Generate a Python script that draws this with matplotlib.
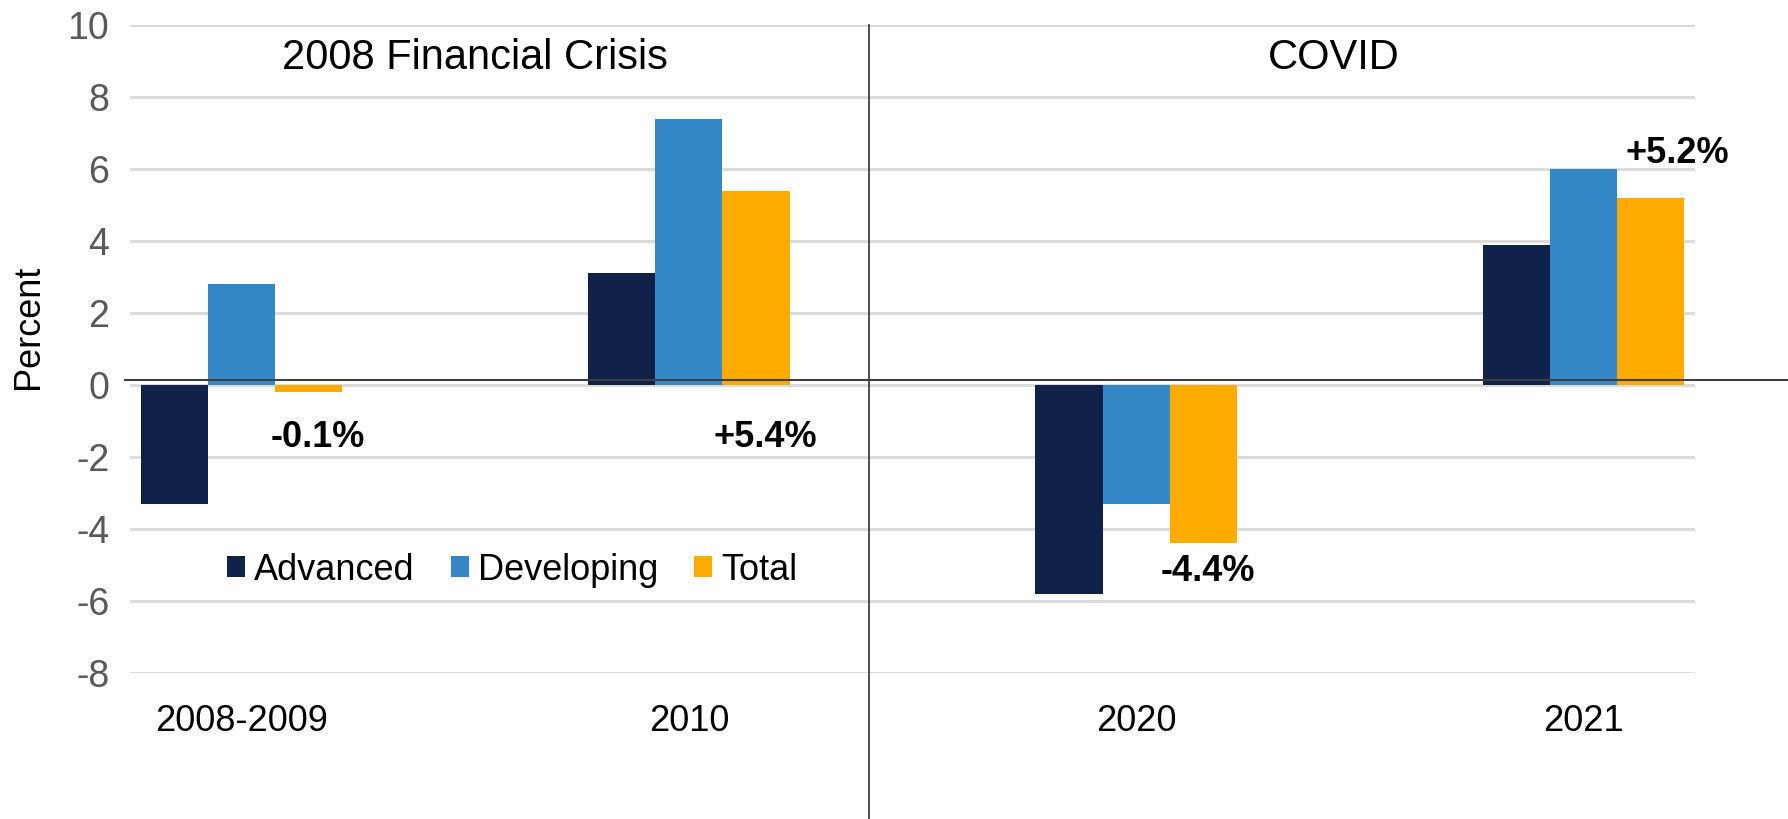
import matplotlib.pyplot as plt
import matplotlib.transforms as mtransforms
from matplotlib.lines import Line2D
import numpy as np

plt.rcParams['font.family'] = ['Liberation Sans', 'DejaVu Sans']

# data
categories = ['2008-2009', '2010', '2020', '2021']
advanced = [-3.3, 3.1, -5.8, 3.9]
developing = [2.8, 7.4, -3.3, 6.0]
total = [-0.2, 5.4, -4.4, 5.2]
total_labels = ['-0.1%', '+5.4%', '-4.4%', '+5.2%']
series_names = ['Advanced', 'Developing', 'Total']
section_titles = ['2008 Financial Crisis', 'COVID']
yticks = [-8, -6, -4, -2, 0, 2, 4, 6, 8, 10]

colors = ['#10224A', '#3588C8', '#FFAB00']

W, H = 1788, 819
fig = plt.figure(figsize=(W / 100, H / 100), dpi=100)
ax = fig.add_axes([130 / W, 1 - 673 / H, (1695 - 130) / W, (673 - 25) / H])

x = np.arange(len(categories))
bw = 0.15
for i, (vals, name) in enumerate(zip([advanced, developing, total], series_names)):
    ax.bar(x + (i - 1) * bw, vals, bw, color=colors[i], label=name, zorder=3)

ax.set_xlim(-0.25, 3.25)
ax.set_ylim(-8, 10)
ax.set_yticks(yticks)
ax.set_yticklabels([str(t) for t in yticks])
ax.set_xticks(x)
ax.set_xticklabels(categories)
ax.tick_params(axis='y', length=0, pad=15, labelsize=27, labelcolor='#595959')
ax.tick_params(axis='x', length=0, pad=22, labelsize=26, labelcolor='black')
ax.grid(axis='y', color='#D9D9D9', linewidth=2, zorder=0)
for s in ax.spines.values():
    s.set_visible(False)

# zero line running to the right edge
trans = mtransforms.blended_transform_factory(fig.transFigure, ax.transData)
fig.add_artist(Line2D([125 / W, 1.0], [0.13, 0.13], transform=trans,
                      color='#404040', linewidth=1.5, zorder=5))
# divider between the two episodes
fig.add_artist(Line2D([869 / W, 869 / W], [0, 1 - 25 / H],
                      transform=fig.transFigure, color='#404040', linewidth=1.3))

# total labels
label_dx = [0.02, 0.02, 0.01, 0.06]
label_y = [-1.47, -1.47, -5.19, 6.43]
for i, txt in enumerate(total_labels):
    ax.text(x[i] + bw + label_dx[i], label_y[i], txt, ha='center', va='center',
            fontsize=26, fontweight='bold', color='black', zorder=6)

fig.text(475 / W, 1 - 58 / H, section_titles[0], ha='center', va='center', fontsize=30)
fig.text(1334 / W, 1 - 58 / H, section_titles[1], ha='center', va='center', fontsize=30)

fig.text(29 / W, 1 - 327 / H, 'Percent', rotation=90, ha='center', va='center', fontsize=26)

ax.legend(loc='center', bbox_to_anchor=(512 / W, 1 - 570 / H), bbox_transform=fig.transFigure,
          ncol=3, frameon=False, fontsize=26, handlelength=0.5, handleheight=0.5,
          handletextpad=0.25, columnspacing=1.0)

fig.savefig('out.png', dpi=100)
